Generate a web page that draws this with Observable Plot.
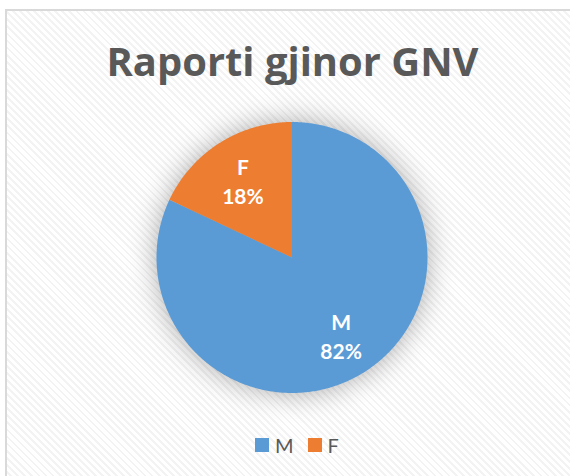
<!DOCTYPE html>
<html>
<head>
<meta charset="utf-8">
<script src="https://cdn.jsdelivr.net/npm/d3@7"></script>
<script src="https://cdn.jsdelivr.net/npm/@observablehq/plot@0.6"></script>
<style>
  html, body { margin: 0; padding: 0; background: #fff; overflow: hidden; }
  #wrap { position: relative; width: 570px; height: 476px; overflow: hidden; background: #fff; }
  #frame {
    position: absolute; left: 5px; top: 9px; width: 620px; height: 520px;
    border: 2px solid #d9d9d9; box-sizing: border-box;
    background-color: #fff;
    background-image: repeating-linear-gradient(45deg, #ffffff 0px, #ffffff 3px, #f3f3f3 3px, #f3f3f3 5px);
  }
  #chart { position: absolute; left: 0; top: 0; }
  #legend {
    position: absolute; left: 255px; top: 433px; display: flex; align-items: center;
    font-family: Lato, "Open Sans", sans-serif; font-size: 20px; color: #595959;
  }
  .item { display: flex; align-items: center; margin-right: 14px; }
  .sw { width: 14px; height: 14px; margin-right: 6px; }
</style>
</head>
<body>
<div id="wrap">
  <div id="frame"></div>
  <div id="chart"></div>
  <div id="legend"></div>
</div>
<script>
const title = "Raporti gjinor GNV";
const categories = ["M", "F"];
const values = [82, 18];
const percentLabels = ["82%", "18%"];
const colors = ["#5B9BD5", "#ED7D31"];

const slices = d3.pie().sort(null).value(d => d.value)(
  categories.map((c, i) => ({cat: c, value: values[i], label: percentLabels[i]}))
);

// Outline points of each slice on the unit circle (angles from 12 o'clock, clockwise)
const pts = [];
for (const s of slices) {
  pts.push({cat: s.data.cat, x: 0, y: 0});
  const n = Math.max(8, Math.ceil((s.endAngle - s.startAngle) / 0.01));
  for (let k = 0; k <= n; k++) {
    const a = s.startAngle + (s.endAngle - s.startAngle) * k / n;
    pts.push({cat: s.data.cat, x: Math.sin(a), y: Math.cos(a)});
  }
}
const labelR = 0.676;
const labels = slices.map(s => {
  const a = (s.startAngle + s.endAngle) / 2;
  return {x: labelR * Math.sin(a), y: labelR * Math.cos(a), text: s.data.cat + "\n" + s.data.label};
});

const cx = 291.5, cy = 257, r = 135.5;
const chart = Plot.plot({
  width: 570, height: 476, margin: 0,
  style: {background: "transparent", overflow: "visible"},
  x: {domain: [-1, 1], range: [cx - r, cx + r], axis: null},
  y: {domain: [-1, 1], range: [cy + r, cy - r], axis: null},
  color: {domain: categories, range: colors},
  marks: [
    Plot.line(pts, {x: "x", y: "y", z: "cat", fill: "cat", stroke: null, curve: "linear-closed"}),
    Plot.text(labels, {x: "x", y: "y", text: "text", fill: "white", fontWeight: "bold",
      fontSize: 21, lineHeight: 1.4, fontFamily: "Lato, 'Open Sans', sans-serif"}),
    Plot.text([title], {frameAnchor: "top", dx: 7, dy: 75, lineAnchor: "bottom",
      fill: "#595959", fontWeight: "bold", fontSize: 39, fontFamily: "'Open Sans', Lato, sans-serif"})
  ]
});
document.getElementById("chart").appendChild(chart);

// soft shadow around the pie
const pieG = chart.querySelector('g[aria-label="line"]');
if (pieG) pieG.style.filter = "drop-shadow(0px 0px 14px rgba(0,0,0,0.33))";
// fit title width
const tg = chart.querySelectorAll('g[aria-label="text"]');
if (tg.length > 1) {
  const t = tg[tg.length - 1].querySelector("text");
  t.setAttribute("textLength", 372);
  t.setAttribute("lengthAdjust", "spacingAndGlyphs");
}

const legend = document.getElementById("legend");
categories.forEach((c, i) => {
  const item = document.createElement("div");
  item.className = "item";
  const sw = document.createElement("div");
  sw.className = "sw";
  sw.style.background = colors[i];
  const tx = document.createElement("span");
  tx.textContent = c;
  item.appendChild(sw); item.appendChild(tx);
  legend.appendChild(item);
});
</script>
</body>
</html>
